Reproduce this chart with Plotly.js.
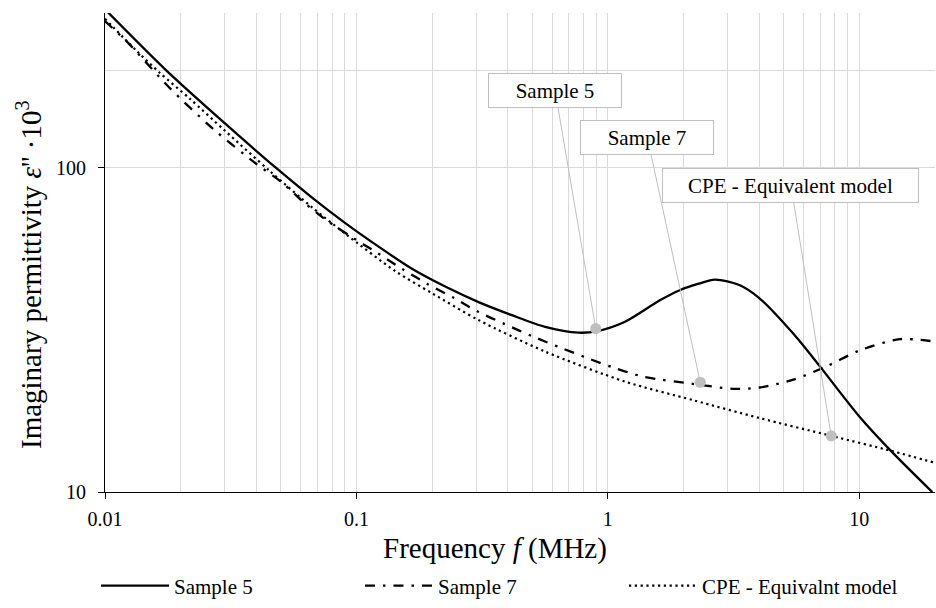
<!DOCTYPE html>
<html>
<head>
<meta charset="utf-8">
<script src="https://cdn.plot.ly/plotly-3.0.1.min.js"></script>
<style>
html,body{margin:0;padding:0;background:#fff;}
#chart{width:936px;height:608px;}
</style>
</head>
<body>
<div id="chart"></div>
<script>
// ---- data (frequency in MHz, imaginary permittivity x 10^3) ----
const seriesNames = ['Sample 5', 'Sample 7', 'CPE - Equivalnt model'];

const freqSample5 = [0.01, 0.0176, 0.03, 0.0478, 0.0666, 0.0903, 0.1225, 0.1663, 0.2255, 0.306, 0.415, 0.563, 0.764, 0.9, 1.17, 1.61, 1.93, 2.3, 2.665, 3.35, 4.02, 5.46, 6.97, 10.0, 13.6, 19.5];
const epsSample5  = [308, 199, 137, 100, 80.9, 67.5, 57.1, 48.8, 43.0, 38.5, 35.1, 32.3, 31.0, 31.3, 33.5, 39.0, 41.9, 43.9, 45.2, 43.4, 39.5, 30.8, 24.4, 17.1, 13.2, 10.0];

const freqSample7 = [0.01, 0.01246, 0.01797, 0.027, 0.0401, 0.0504, 0.0618, 0.0763, 0.0959, 0.1206, 0.1517, 0.1906, 0.2435, 0.306, 0.3906, 0.5066, 0.646, 0.838, 1.05, 1.38, 2.33, 3.15, 4.02, 5.46, 7.41, 10.0, 14.5, 20];
const epsSample7  = [283, 241, 177, 131.5, 102.6, 90.2, 78.2, 68.7, 61.1, 54.7, 48.8, 43.9, 39.7, 35.9, 32.9, 30.1, 27.9, 25.8, 24.2, 22.7, 21.4, 20.8, 21.0, 22.2, 24.4, 27.3, 29.6, 29.1];

const freqCPE = [0.01, 0.01337, 0.01654, 0.02178, 0.03, 0.045, 0.0666, 0.09, 0.1427, 0.2, 0.306, 0.563, 1.17, 2.18, 4.02, 7.73, 13.6, 20];
const epsCPE  = [288, 229, 196, 163, 130, 98, 75.5, 62.7, 48, 41, 33.9, 27.1, 21.9, 19.2, 16.9, 14.9, 13.35, 12.3];

// ---- ticks ----
const xTickVals = [0.01, 0.1, 1, 10];
const xTickText = ['0.01', '0.1', '1', '10'];
const xMinorGridVals = [0.02,0.03,0.04,0.05,0.06,0.07,0.08,0.09, 0.2,0.3,0.4,0.5,0.6,0.7,0.8,0.9, 2,3,4,5,6,7,8,9, 20];
const yTickVals = [10, 100];
const yTickText = ['10', '100'];
const yMinorGridVals = [200, 300];

// ---- callouts ----
const calloutLabels = ['Sample 5', 'Sample 7', 'CPE - Equivalent model'];
const calloutFreq = [0.895, 2.33, 7.73];
const calloutEps  = [31.9, 21.8, 14.9];

const FONT = 'Liberation Serif';

const traces = [
  {x: freqSample5, y: epsSample5, name: seriesNames[0], type: 'scatter', mode: 'lines', legend: 'legend',
   line: {color: '#000', width: 2.3, shape: 'spline', smoothing: 0.8}},
  {x: freqSample7, y: epsSample7, name: seriesNames[1], type: 'scatter', mode: 'lines', legend: 'legend2',
   line: {color: '#000', width: 2.3, shape: 'spline', smoothing: 0.8, dash: '10px,8px,2.5px,8px'}},
  {x: freqCPE, y: epsCPE, name: seriesNames[2], type: 'scatter', mode: 'lines', legend: 'legend3',
   line: {color: '#000', width: 2.2, shape: 'spline', smoothing: 0.8, dash: '2.2px,3.6px'}}
];

const calloutOffsets = [[-40.7, -238.3], [-52.8, -244.3], [-40.2, -250.4]];
const calloutSizes = [[132, 33], [132, 33], [255, 33]];

const annotations = calloutLabels.map((t, i) => ({
  x: Math.log10(calloutFreq[i]), y: Math.log10(calloutEps[i]), xref: 'x', yref: 'y',
  text: t, showarrow: true, arrowhead: 6, arrowsize: 2.8, arrowwidth: 1, arrowcolor: '#bfbfbf',
  ax: calloutOffsets[i][0], ay: calloutOffsets[i][1], axref: 'pixel', ayref: 'pixel',
  bgcolor: '#ffffff', bordercolor: '#bfbfbf', borderwidth: 1, borderpad: 0,
  width: calloutSizes[i][0], height: calloutSizes[i][1],
  font: {family: FONT, size: 21, color: '#000'}
}));

annotations.push({
  text: 'Frequency <i>f</i> (MHz)', xref: 'paper', yref: 'paper', x: 0.4693, y: -0.1187,
  xanchor: 'center', yanchor: 'middle', showarrow: false, font: {family: FONT, size: 29, color: '#000'}
});
annotations.push({
  text: "Imaginary permittivity <i>ε</i>'' ·10<sup>3</sup>", xref: 'paper', yref: 'paper',
  x: -0.0916, y: 0.455, xanchor: 'center', yanchor: 'middle', textangle: -90, showarrow: false,
  font: {family: FONT, size: 29, color: '#000'}
});

function legendAt(xPaper) {
  return {
    orientation: 'h', x: xPaper, xanchor: 'left', y: -0.239, yanchor: 'bottom',
    font: {family: FONT, size: 21, color: '#000'}, itemwidth: 68,
    bgcolor: 'rgba(0,0,0,0)', borderwidth: 0
  };
}

const layout = {
  width: 936, height: 608,
  margin: {l: 105, r: 1, t: 13, b: 115.5, pad: 0},
  paper_bgcolor: '#fff', plot_bgcolor: '#fff',
  font: {family: FONT, size: 20, color: '#000'},
  showlegend: true,
  xaxis: {
    type: 'log', range: [-2, Math.log10(20)], tickmode: 'array', tickvals: xTickVals, ticktext: xTickText,
    ticks: 'outside', ticklen: 6, tickwidth: 1, tickcolor: '#000',
    showline: true, linecolor: '#000', linewidth: 1, zeroline: false,
    showgrid: true, gridcolor: '#d9d9d9', gridwidth: 1,
    minor: {tickmode: 'array', tickvals: xMinorGridVals, showgrid: true, gridcolor: '#d9d9d9', gridwidth: 1, ticks: ''},
    tickfont: {family: FONT, size: 20, color: '#000'}, ticklabelstandoff: 3
  },
  yaxis: {
    type: 'log', range: [1, Math.log10(300)], tickmode: 'array', tickvals: yTickVals, ticktext: yTickText,
    ticks: 'outside', ticklen: 6, tickwidth: 1, tickcolor: '#000',
    showline: true, linecolor: '#000', linewidth: 1, zeroline: false,
    showgrid: true, gridcolor: '#d9d9d9', gridwidth: 1,
    minor: {tickmode: 'array', tickvals: yMinorGridVals, showgrid: true, gridcolor: '#d9d9d9', gridwidth: 1, ticks: ''},
    tickfont: {family: FONT, size: 20, color: '#000'}, ticklabelstandoff: 8
  },
  legend: legendAt(-0.0108),
  legend2: legendAt(0.3072),
  legend3: legendAt(0.6253),
  annotations: annotations
};

Plotly.newPlot('chart', traces, layout, {displayModeBar: false, staticPlot: true});
</script>
</body>
</html>
